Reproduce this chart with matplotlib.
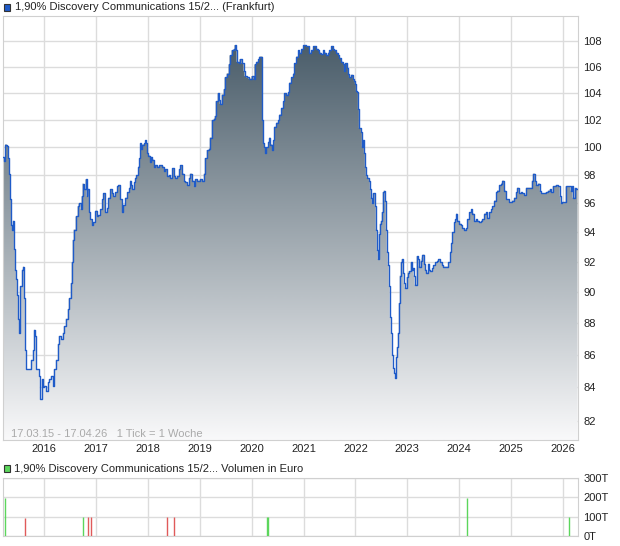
import numpy as np
import pandas as pd
import matplotlib
matplotlib.use('Agg')
import matplotlib.pyplot as plt
from matplotlib.patches import Rectangle
from matplotlib.image import AxesImage
from matplotlib.colors import LinearSegmentedColormap
from matplotlib.ticker import FixedLocator, NullLocator, FuncFormatter

plt.rcParams['font.family'] = ['Liberation Sans', 'DejaVu Sans']

# weekly closing prices, weeks counted from the first tick (17.03.15)
start = pd.Timestamp('2015-03-17')
end = pd.Timestamp('2026-04-17')

weeks = [0, 1, 2, 4, 5, 6, 7, 8, 9, 10, 11, 12, 13, 14, 15, 16, 17, 19, 20, 21,
         22, 23, 25, 27, 28, 30, 31, 32, 33, 35, 36, 37, 39, 40, 41, 43, 45, 46, 48, 50,
         51, 53, 55, 56, 58, 60, 61, 63, 65, 66, 68, 69, 70, 71, 73, 75, 76, 78, 79, 80,
         81, 83, 84, 85, 87, 88, 90, 91, 93, 95, 96, 98, 100, 101, 103, 105, 106, 108, 110, 111,
         113, 115, 116, 118, 120, 121, 123,
         125, 127, 128, 129, 130, 132, 133, 134, 136, 137, 138, 139, 140, 142, 143, 144, 145, 146,
         148, 149, 150, 152, 153, 155, 157, 158, 160, 162, 163, 165, 167, 168, 170, 172, 173, 175,
         177, 178, 180, 182, 183, 185, 187, 188, 190, 192, 193, 195, 197, 198, 200, 202, 203, 205,
         207, 208, 210, 212, 213, 214, 216, 217, 218, 220, 222, 223, 225, 227, 228, 230, 232, 233,
         234, 235, 237, 238,
         240, 242, 243, 245, 247, 248, 250, 252, 253, 255, 257, 258, 260, 261, 262, 263, 264, 265,
         267, 268, 269, 271, 272, 273, 275, 277, 278, 280, 282, 283, 285, 287, 288, 290, 292, 293,
         295, 297, 298, 300, 302, 303, 305, 307, 308, 310, 312, 313, 315, 317, 318, 320, 322, 323,
         325, 327, 328, 330, 332, 333, 335, 337, 338, 340, 342, 343, 344, 346, 347, 348, 350, 352,
         353,
         354, 355, 356, 357, 358, 360, 361, 362, 363, 364, 365, 366, 368, 369, 370, 371, 372, 373,
         374, 375, 376, 377, 378, 379, 380, 381, 382, 383, 384, 385, 386, 387, 388, 389, 390, 391,
         392, 393, 394, 395, 396, 397, 398, 399, 400, 401, 402, 403, 404, 406, 407, 408, 410, 411,
         412, 413, 414, 416, 417, 418, 420, 421, 422, 424, 425, 426, 428, 429, 430, 432, 433, 435,
         437, 438, 440, 442, 443, 445, 447, 448, 450, 451, 452, 454, 455, 456, 457,
         459, 461, 462, 464, 466, 467, 469, 471, 472, 474, 476, 477, 479, 481, 482, 484, 486, 487,
         489, 491, 492, 494, 496, 497, 499, 501, 502, 504, 506, 507, 509, 511, 512, 514, 516, 517,
         519, 521, 522, 524, 526, 527, 529, 531, 532, 533, 535, 536, 538, 540, 541, 543, 545, 546,
         548, 550, 551, 553, 555, 556, 558, 560, 561, 562, 564, 566, 567, 569, 571, 572, 573, 575,
         576, 578]

prices = [99.3, 99.0, 100.2, 100.1, 99.2, 98.1, 96.3, 94.5, 94.2, 94.8, 92.9, 91.5, 90.9, 89.8, 88.3, 87.4, 90.4, 91.5, 91.7, 89.6,
          86.3, 85.1, 85.1, 85.1, 85.7, 86.3, 87.6, 87.2, 85.1, 85.1, 84.7, 83.3, 84.5, 84.0, 84.1, 83.8, 84.3, 84.5, 84.7, 84.1,
          85.1, 85.7, 86.7, 87.2, 87.0, 87.4, 87.8, 88.3, 88.9, 89.6, 90.6, 92.0, 93.5, 94.2, 95.1, 95.8, 96.0, 95.6, 96.5, 97.4,
          97.0, 97.7, 96.5, 97.0, 95.4, 94.9, 94.5, 94.7, 95.5, 95.1, 95.2, 95.6, 96.3, 96.7, 95.4, 95.7, 96.4, 97.0, 96.7, 96.5,
          96.8, 97.2, 97.3, 96.3, 95.4, 95.9, 96.4,
          96.8, 97.1, 97.6, 97.3, 97.0, 97.5, 97.8, 98.0, 98.6, 99.2, 100.3, 99.9, 100.2, 100.3, 100.5, 100.3, 99.6, 99.4,
          98.9, 99.3, 99.1, 98.6, 98.7, 98.6, 98.7, 98.7, 98.6, 98.3, 98.4, 97.9, 98.0, 97.8, 98.5, 97.9, 97.8, 97.9,
          98.4, 98.7, 98.1, 97.6, 97.5, 97.3, 97.8, 98.1, 97.6, 97.2, 97.7, 97.6, 97.6, 97.7, 97.6, 98.1, 99.2, 99.8,
          99.9, 100.7, 102.0, 102.1, 102.3, 103.4, 104.0, 103.5, 103.2, 103.9, 104.3, 105.2, 105.5, 106.2, 106.9, 107.3, 107.4, 107.7,
          107.3, 106.4, 106.3, 106.6,
          106.3, 105.7, 105.3, 105.2, 105.1, 105.1, 105.3, 105.1, 106.2, 106.4, 106.6, 106.8, 106.8, 102.0, 100.3, 100.0, 99.6, 100.0,
          100.4, 100.7, 100.2, 99.8, 100.5, 101.5, 101.8, 102.0, 102.4, 102.9, 103.4, 104.0, 103.9, 104.1, 104.8, 105.2, 105.5, 106.3,
          106.8, 107.3, 107.1, 107.4, 107.7, 107.7, 107.6, 107.6, 107.1, 107.3, 107.6, 107.6, 107.4, 107.3, 107.1, 107.0, 107.3, 107.1,
          106.9, 107.1, 107.3, 107.6, 107.4, 107.3, 107.1, 106.9, 106.7, 106.4, 106.2, 105.7, 106.3, 105.9, 105.5, 105.2, 105.4, 105.1,
          104.9,
          104.7, 104.2, 104.1, 102.8, 101.4, 101.1, 100.05, 100.5, 99.6, 98.6, 98.0, 97.8, 97.6, 97.0, 96.4, 96.0, 96.7, 96.7,
          95.8, 94.2, 92.8, 92.2, 93.9, 94.6, 94.8, 95.4, 96.8, 96.9, 96.2, 94.2, 92.7, 91.8, 90.4, 88.4, 87.4, 86.0,
          85.2, 84.9, 84.6, 85.9, 86.5, 87.4, 89.3, 91.1, 92.0, 92.2, 91.3, 90.6, 90.3, 91.0, 91.3, 91.4, 92.0, 91.5,
          91.6, 91.1, 90.5, 92.4, 92.2, 91.7, 92.1, 92.3, 92.5, 91.9, 91.5, 91.3, 91.9, 91.5, 91.4, 91.6, 91.8, 92.0,
          92.1, 92.2, 92.0, 91.8, 91.7, 91.7, 91.7, 92.0, 92.7, 93.3, 94.0, 94.7, 94.9, 95.3, 94.8,
          94.6, 94.5, 94.3, 94.2, 94.3, 94.9, 95.4, 95.6, 95.3, 94.8, 94.9, 94.8, 94.7, 94.8, 94.9, 95.3, 95.4, 95.0,
          95.4, 95.6, 95.8, 96.2, 96.8, 96.9, 97.3, 97.4, 97.6, 96.9, 96.3, 96.3, 96.1, 96.1, 96.2, 96.4, 96.8, 97.1,
          96.7, 96.8, 96.7, 96.6, 97.1, 97.1, 97.1, 97.1, 97.6, 98.1, 97.6, 97.3, 97.4, 96.9, 96.7, 96.7, 96.7, 96.8,
          96.9, 97.0, 96.8, 97.2, 97.2, 97.3, 97.2, 96.5, 96.0, 96.1, 96.1, 97.2, 97.2, 97.2, 96.9, 97.2, 96.4, 97.1,
          97.0, 97.1]

# traded volume (thousand euro)
vol_weeks = [2, 22, 80, 86, 89, 165, 172, 266, 267, 467, 569]
vol_values = [198, 95, 100, 100, 100, 100, 100, 100, 100, 193, 98]
vol_up = [True, False, True, False, False, False, False, True, True, True, True]

years = list(range(2016, 2027))
price_ticks = list(range(82, 110, 2))
vol_ticks = [0, 100, 200, 300]

W, H = 620, 546
fig = plt.figure(figsize=(W / 100, H / 100), dpi=100)
fig.patch.set_facecolor('white')

x = start + pd.to_timedelta(np.array(weeks) * 7, unit='D')
year_dates = [pd.Timestamp(f'{y}-01-01') for y in years]

# --- price panel
ax = fig.add_axes([3 / W, 1 - 440 / H, 575 / W, 424 / H])
ax.set_yscale('log')
poly = ax.fill_between(x, prices, 60, step='post', facecolor='none', edgecolor='none')
cmap = LinearSegmentedColormap.from_list('fade', ['#3e5260', '#f9f9fa'])
im = AxesImage(ax, cmap=cmap, extent=(0, 1, 0, 1), origin='upper',
               interpolation='bilinear', transform=ax.transAxes)
im.set_data(np.linspace(0, 1, 256).reshape(-1, 1))
im.set_zorder(1)
ax.add_artist(im)
im.set_clip_path(poly.get_paths()[0], transform=ax.transData)
ax.plot(x, prices, drawstyle='steps-post', color='#1f5bc8', lw=1, zorder=3)

ax.set_xlim(start, end)
ax.set_ylim(80.85, 110.0)
ax.set_axisbelow(True)
ax.grid(color='#dcdcdc', lw=1)
ax.xaxis.set_major_locator(FixedLocator(matplotlib.dates.date2num(year_dates)))
ax.set_xticklabels([str(y) for y in years])
ax.yaxis.tick_right()
ax.yaxis.set_major_locator(FixedLocator(price_ticks))
ax.yaxis.set_minor_locator(NullLocator())
ax.yaxis.set_major_formatter(FuncFormatter(lambda v, p: f'{v:.0f}'))
ax.tick_params(axis='both', length=0, labelsize=8, colors='#222222')
ax.tick_params(axis='y', pad=4)
ax.tick_params(axis='x', pad=3)
for s in ax.spines.values():
    s.set_color('#d0d0d0')
ax.text(8 / 575, 6 / 424, '17.03.15 - 17.04.26   1 Tick = 1 Woche', transform=ax.transAxes,
        fontsize=8, color='#aaaaaa', va='center', ha='left', zorder=4)

# legend row above price panel
fig.patches.append(Rectangle((3.5 / W, 1 - 10.5 / H), 7 / W, 7 / H, transform=fig.transFigure,
                             facecolor='#1f5bc8', edgecolor='#333333', lw=0.8))
fig.text(15 / W, 1 - 7 / H, '1,90% Discovery Communications 15/2... (Frankfurt)',
         fontsize=8, color='#222222', va='center', ha='left')

# --- volume panel
ax2 = fig.add_axes([3 / W, 1 - 536 / H, 575 / W, 58.3 / H])
xv = start + pd.to_timedelta(np.array(vol_weeks) * 7, unit='D')
colors = ['#5cd65c' if up else '#e05a5a' for up in vol_up]
ax2.vlines(xv, 0, vol_values, colors=colors, lw=1, zorder=3)
ax2.set_xlim(start, end)
ax2.set_ylim(0, 300)
ax2.set_axisbelow(True)
ax2.grid(color='#dcdcdc', lw=1)
ax2.xaxis.set_major_locator(FixedLocator(matplotlib.dates.date2num(year_dates)))
ax2.set_xticklabels([])
ax2.yaxis.tick_right()
ax2.yaxis.set_major_locator(FixedLocator(vol_ticks))
ax2.yaxis.set_major_formatter(FuncFormatter(lambda v, p: f'{v:.0f}T'))
ax2.tick_params(axis='both', length=0, labelsize=8, colors='#222222')
ax2.tick_params(axis='y', pad=4)
for s in ax2.spines.values():
    s.set_color('#d0d0d0')

fig.patches.append(Rectangle((3.5 / W, 1 - 472 / H), 7 / W, 7 / H, transform=fig.transFigure,
                             facecolor='#5cd65c', edgecolor='#333333', lw=0.8))
fig.text(14 / W, 1 - 468.5 / H, '1,90% Discovery Communications 15/2... Volumen in Euro',
         fontsize=8, color='#222222', va='center', ha='left')

fig.savefig('out.png', dpi=100)
